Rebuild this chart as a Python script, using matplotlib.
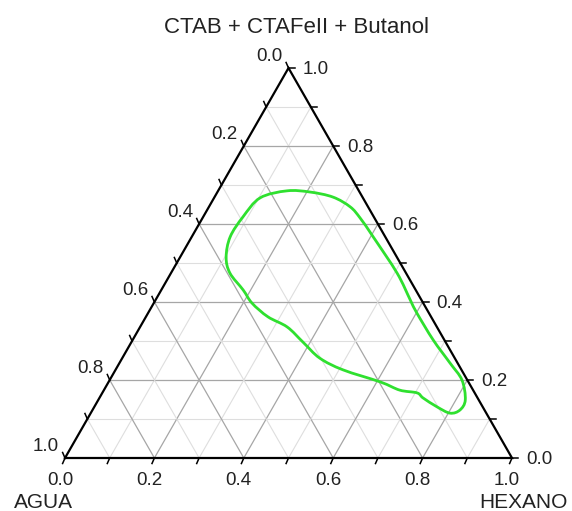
import numpy as np
import matplotlib
matplotlib.use("Agg")
import matplotlib.pyplot as plt
from matplotlib.path import Path
from matplotlib.patches import PathPatch

plt.rcParams['font.family'] = ['Liberation Sans', 'DejaVu Sans']

# ---- data: boundary of the region (fractions) ----
hexano = [0.207, 0.154, 0.103, 0.089, 0.086, 0.103, 0.132, 0.183, 0.220, 0.273,
          0.329, 0.384, 0.442, 0.509, 0.608, 0.662, 0.704, 0.724, 0.767, 0.804,
          0.822, 0.821, 0.788, 0.739, 0.672, 0.601, 0.570, 0.506, 0.406, 0.353,
          0.316, 0.265]
tensoactivo = [0.682, 0.685, 0.667, 0.618, 0.567, 0.515, 0.474, 0.431, 0.397, 0.362,
               0.336, 0.297, 0.256, 0.226, 0.195, 0.174, 0.167, 0.154, 0.131, 0.115,
               0.123, 0.149, 0.200, 0.244, 0.303, 0.372, 0.405, 0.474, 0.567, 0.615,
               0.644, 0.669]
tick_values = [0.0, 0.2, 0.4, 0.6, 0.8, 1.0]
title = "CTAB + CTAFeII + Butanol"
label_left = "AGUA"
label_right = "HEXANO"

# ---- figure / coordinate frame ----
W, H = 572, 511
X0, Y0, SIDE, HGT = 65.0, 458.0, 447.0, 390.0   # pixel frame of the triangle
fig = plt.figure(figsize=(W / 100, H / 100), dpi=100)
ax = fig.add_axes([0, 0, 1, 1])
ax.set_xlim((0 - X0) / SIDE, (W - X0) / SIDE)
ax.set_ylim((Y0 - H) / HGT, Y0 / HGT)
ax.axis('off')

px = 1.0 / SIDE   # data units per pixel horizontally
py = 1.0 / HGT    # data units per pixel vertically


def tern(h, s):
    h = np.asarray(h, float)
    s = np.asarray(s, float)
    return h + s / 2.0, s


def pix(xp, yp):
    return (xp - X0) * px, (Y0 - yp) * py


# ---- grid ----
for i in range(1, 10):
    v = i / 10.0
    major = (i % 2 == 0)
    col = '#a6a6a6' if major else '#dedede'
    lw = 0.9 if major else 0.8
    x, y = tern([0, 1 - v], [v, v])
    ax.plot(x, y, color=col, lw=lw, zorder=1)
    x, y = tern([v, v], [0, 1 - v])
    ax.plot(x, y, color=col, lw=lw, zorder=1)
    x, y = tern([1 - v, 0], [0, 1 - v])
    ax.plot(x, y, color=col, lw=lw, zorder=1)

# ---- triangle border ----
x, y = tern([0, 1, 0, 0], [0, 0, 1, 0])
ax.plot(x, y, color='black', lw=1.6, zorder=3, solid_joinstyle='miter')

# ---- ticks ----
L = 6
tlw = 1.1
for i in range(0, 11):
    v = i / 10.0
    bx, by = tern(v, 0)
    ax.plot([bx, bx - 0.4 * L * px], [by, by - 0.92 * L * py], color='black', lw=tlw, zorder=3)
    rx, ry = tern(1 - v, v)
    ax.plot([rx, rx + L * px], [ry, ry], color='black', lw=tlw, zorder=3)
    lx, ly = tern(0, 1 - v)
    ax.plot([lx, lx - 0.4 * L * px], [ly, ly + 0.92 * L * py], color='black', lw=tlw, zorder=3)

tc = '#222222'
fs = 13.5
for v in tick_values:
    bx, by = tern(v, 0)
    ax.text(bx - 5 * px, by - 27 * py, f"{v:.1f}", ha='center', va='baseline', fontsize=fs, color=tc)
    rx, ry = tern(1 - v, v)
    ax.text(rx + 14 * px, ry - 6 * py, f"{v:.1f}", ha='left', va='baseline', fontsize=fs, color=tc)
    lx, ly = tern(0, 1 - v)
    ax.text(lx - 6 * px, ly + 7 * py, f"{v:.1f}", ha='right', va='baseline', fontsize=fs, color=tc)

x, y = pix(43, 508)
ax.text(x, y, label_left, ha='center', va='baseline', fontsize=15, color=tc)
x, y = pix(568, 508)
ax.text(x, y, label_right, ha='right', va='baseline', fontsize=15, color=tc)
x, y = pix(296.5, 33)
ax.text(x, y, title, ha='center', va='baseline', fontsize=16, color=tc)

# ---- boundary curve (closed, smoothed drawing through the points) ----
cx, cy = tern(hexano, tensoactivo)
pts = np.column_stack([cx, cy])
n = len(pts)
verts = [pts[0]]
codes = [Path.MOVETO]
for k in range(n):
    p0 = pts[(k - 1) % n]
    p1 = pts[k]
    p2 = pts[(k + 1) % n]
    p3 = pts[(k + 2) % n]
    c1 = p1 + (p2 - p0) / 6.0
    c2 = p2 - (p3 - p1) / 6.0
    verts += [c1, c2, p2]
    codes += [Path.CURVE4] * 3
patch = PathPatch(Path(verts, codes), facecolor='none', edgecolor='#2fe02f', lw=2.0, zorder=4)
ax.add_patch(patch)

fig.savefig('out.png', dpi=100)
